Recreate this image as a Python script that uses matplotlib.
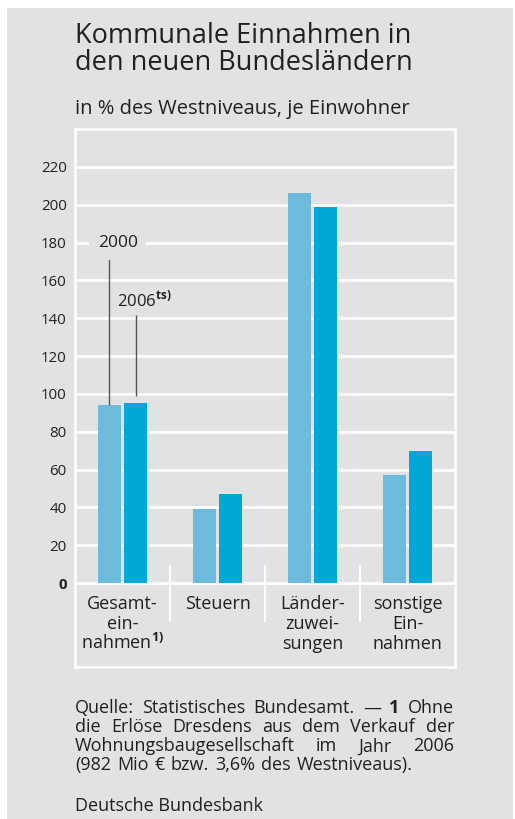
"""Kommunale Einnahmen in den neuen Bundesländern: grouped bars 2000 vs 2006."""

import matplotlib

matplotlib.use("Agg")  # headless
import matplotlib.pyplot as plt  # noqa: E402
from matplotlib.patches import Rectangle  # noqa: E402

CATEGORIES = [
    ["Gesamt-", "ein-", "nahmen$^{\\mathbf{1)}}$"],
    ["Steuern"],
    ["Länder-", "zuwei-", "sungen"],
    ["sonstige", "Ein-", "nahmen"],
]
VALUES_2000 = [94, 39, 206, 57]
VALUES_2006 = [95, 47, 199, 70]
YTICKS = list(range(0, 221, 20))

TITLE = ["Kommunale Einnahmen in", "den neuen Bundesländern"]
SUBTITLE = "in % des Westniveaus, je Einwohner"
FOOTNOTE = [
    [("Quelle:", "normal"), ("Statistisches", "normal"), ("Bundesamt.", "normal"),
     ("—", "normal"), ("1", "bold"), ("Ohne", "normal")],
    [(w, "normal") for w in "die Erlöse Dresdens aus dem Verkauf der".split()],
    [(w, "normal") for w in "Wohnungsbaugesellschaft im Jahr 2006".split()],
    [(w, "normal") for w in "(982 Mio € bzw. 3,6% des Westniveaus).".split()],
]
SOURCE = "Deutsche Bundesbank"

BG = "#e1e2e4"
C2000 = "#6cbbdc"
C2006 = "#00a8d8"
INK = "#231f20"
LEADER = "#555555"

W, H = 515, 819
plt.rcParams["font.family"] = ["Open Sans", "DejaVu Sans"]
plt.rcParams["mathtext.fontset"] = "custom"
plt.rcParams["mathtext.rm"] = "Open Sans"
plt.rcParams["mathtext.bf"] = "Open Sans:bold"
plt.rcParams["text.color"] = INK

fig = plt.figure(figsize=(W / 100, H / 100), dpi=100)
fig.patch.set_facecolor("white")
fig.add_artist(Rectangle((7 / W, 0), (513 - 7) / W, 1 - 8 / H, transform=fig.transFigure,
                         facecolor=BG, edgecolor="none", zorder=-10))

# plot box spans the category label zone too (white frame down to y=667 px)
ax = fig.add_axes([75 / W, 1 - 667 / H, 380 / W, 538 / H])
ax.set_facecolor(BG)
ax.set_xlim(-0.5, 3.5)
ax.set_ylim(-44.4, 240)
for sp in ax.spines.values():
    sp.set_color("white")
    sp.set_linewidth(1.8)

x = list(range(len(CATEGORIES)))
off, bw = 0.137, 0.245
ax.hlines(YTICKS, -0.5, 3.5, color="white", lw=2, zorder=1)
ax.bar([i - off for i in x], VALUES_2000, width=bw, color=C2000, zorder=2)
ax.bar([i + off for i in x], VALUES_2006, width=bw, color=C2006, zorder=2)
ax.vlines([0.5, 1.5, 2.5], -20.6, 9.5, color="white", lw=1.5, zorder=1)

ax.set_xticks([])
ax.set_yticks(YTICKS)
ax.set_yticklabels([str(t) for t in YTICKS], fontsize=10.8, color=INK)
ax.get_yticklabels()[0].set_fontweight("bold")
ax.tick_params(axis="y", length=0, pad=6)

# category names, one baseline per line (20 px apart, first at y=609 px)
px = 538 / 284.4  # pixels per data unit
for i, lines in enumerate(CATEGORIES):
    for k, txt in enumerate(lines):
        ax.text(i, -(26 + 20 * k) / px, txt, ha="center", va="baseline", fontsize=13)

# year call-outs on the first group
ax.vlines(-off, VALUES_2000[0], 172, color=LEADER, lw=1, zorder=3)
ax.vlines(off, VALUES_2006[0] + 4, 141.5, color=LEADER, lw=1, zorder=3)
ax.text(-0.05, 179.5, "2000", ha="center", va="center", fontsize=12.5,
        bbox=dict(facecolor=BG, edgecolor="none", pad=6), zorder=4)
ax.text(-0.06, 149, "2006$^{\\mathbf{ts)}}$", ha="left", va="center", fontsize=12, zorder=4)

for k, line in enumerate(TITLE):
    fig.text(75 / W, 1 - (43.3 + 26.7 * k) / H, line, ha="left", va="baseline", fontsize=19.5)
fig.text(75 / W, 1 - 114 / H, SUBTITLE, ha="left", va="baseline", fontsize=14.5)

# justified footnote block between x=75 and x=454 px
renderer = fig.canvas.get_renderer()
FOOT_FS = 13
x0, x1 = 75, 454
for k, line in enumerate(FOOTNOTE):
    y = 713.3 + 19 * k
    arts = [fig.text(0, 1 - y / H, w, fontsize=FOOT_FS, fontweight=wt, ha="left", va="baseline")
            for w, wt in line]
    widths = [a.get_window_extent(renderer).width for a in arts]
    last = k == len(FOOTNOTE) - 1
    gap = 6 if last else (x1 - x0 - sum(widths)) / (len(arts) - 1)
    xp = x0
    for a, wd in zip(arts, widths):
        a.set_x(xp / W)
        xp += wd + gap
fig.text(75 / W, 1 - 810.7 / H, SOURCE, ha="left", va="baseline", fontsize=FOOT_FS)

fig.savefig("out.png", dpi=100, facecolor=fig.get_facecolor())
